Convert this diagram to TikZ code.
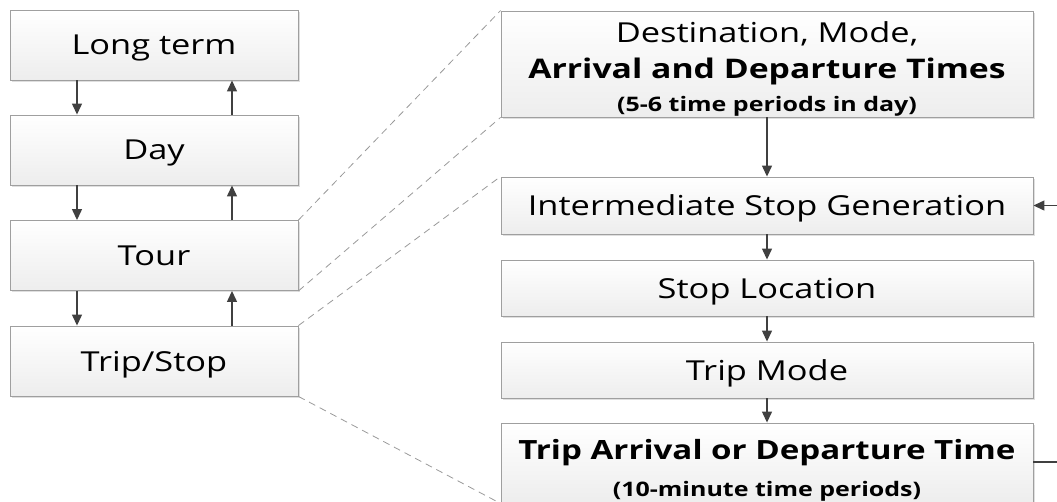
\documentclass[tikz,border=0pt]{standalone}
\usepackage{fontspec}
\setmainfont{Open Sans}[FakeStretch=1.25]
\usetikzlibrary{arrows.meta,shadows}

\tikzset{
  level/.style={draw=gray!75, line width=0.9pt, top color=white, bottom color=gray!14,
    drop shadow={opacity=0.25, shadow xshift=1.5pt, shadow yshift=-1.5pt},
    align=center, inner sep=0pt},
  leftbox/.style={level, minimum width=288pt, minimum height=70pt, text depth=0pt,
    font=\fontsize{27.5}{33}\selectfont},
  rightbox/.style={level, minimum width=532pt, text depth=0pt, font=\fontsize{27.5}{33}\selectfont},
  flow/.style={draw=black!75, line width=1.3pt, -{Triangle[length=11pt,width=10pt]}},
  zoomline/.style={draw=gray!80, line width=0.8pt, dash pattern=on 7pt off 5pt}
}

\begin{document}
\begin{tikzpicture}[x=1pt, y=-1pt]
  \useasboundingbox (0,0) rectangle (1057,501);

  % Left column
  \node[leftbox] (longterm) at (154,45) {Long term};
  \node[leftbox] (day) at (154,150) {Day};
  \node[leftbox] (tour) at (154,255.5) {Tour};
  \node[leftbox] (tripstop) at (154,361) {Trip/Stop};

  \coordinate (dn) at (77,0);
  \coordinate (up) at (232,0);
  \foreach \a/\b in {longterm/day, day/tour, tour/tripstop}{
    \draw[flow] (\a.south -| dn) -- (\b.north -| dn);
    \draw[flow] (\b.north -| up) -- (\a.south -| up);
  }

  % Right column
  \node[rightbox, minimum height=106pt] (tourchoice) at (767,64) {};
  \node[align=center, font=\fontsize{27.5}{36}\selectfont] (tourtext) at (767,69)
    {Destination, Mode,\\
     {\fontsize{27}{33}\selectfont\bfseries Arrival and Departure Times}\\[-3pt]
     {\fontsize{20}{24}\selectfont\bfseries (5-6 time periods in day)}};
  \node[rightbox, minimum height=57pt] (stopgen) at (767,205.5) {Intermediate Stop Generation};
  \node[rightbox, minimum height=56pt] (stoploc) at (767,288) {Stop Location};
  \node[rightbox, minimum height=56pt] (tripmode) at (767,370) {Trip Mode};
  \node[rightbox, minimum height=80pt] (triptime) at (767,463) {};
  \node[align=center, font=\fontsize{26.5}{37}\selectfont] (timetext) at (767,470)
    {{\bfseries Trip Arrival or Departure Time}\\
     {\fontsize{20}{24}\selectfont\bfseries (10-minute time periods)}};

  \draw[flow] (tourchoice) -- (stopgen);
  \draw[flow] (stopgen) -- (stoploc);
  \draw[flow] (stoploc) -- (tripmode);
  \draw[flow] (tripmode) -- (triptime);

  % loop ends at the right edge
  \coordinate (inright) at (1057,205.5);
  \coordinate (outright) at (1057,462);
  \draw[flow] (inright) -- (stopgen.east);
  \draw[draw=black!75, line width=1.3pt] (triptime.east |- outright) -- (outright);

  % Zoom lines
  \draw[zoomline] (tour.north east) -- (tourchoice.north west);
  \draw[zoomline] (tour.south east) -- (tourchoice.south west);
  \draw[zoomline] (tripstop.north east) -- (stopgen.north west);
  \draw[zoomline] (tripstop.south east) -- (triptime.south west);
\end{tikzpicture}
\end{document}
